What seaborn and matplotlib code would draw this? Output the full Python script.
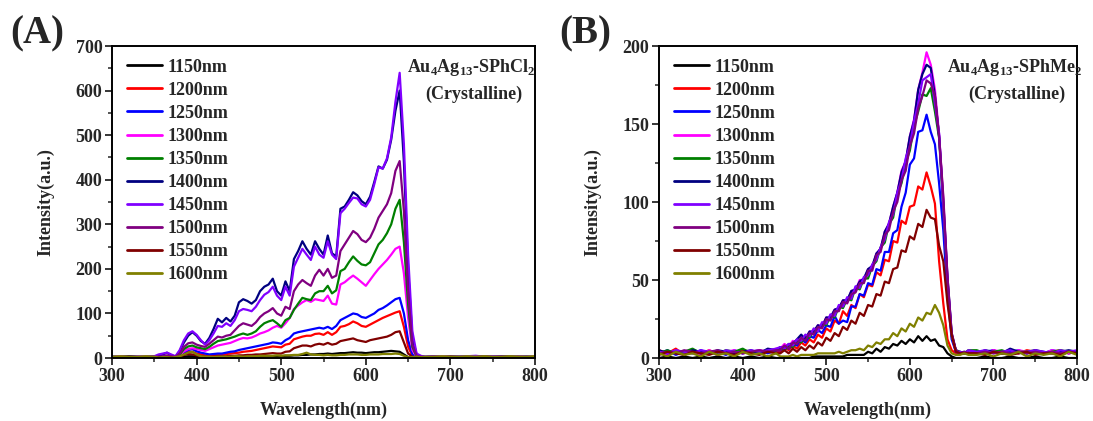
import numpy as np
import pandas as pd
import seaborn as sns
import matplotlib.pyplot as plt
from matplotlib.ticker import MultipleLocator

sns.set_theme(style="ticks")
plt.rcParams["font.family"] = ["Liberation Serif", "DejaVu Serif"]
plt.rcParams["font.weight"] = "bold"
plt.rcParams["mathtext.fontset"] = "custom"
plt.rcParams["mathtext.rm"] = "Liberation Serif:bold"
plt.rcParams["mathtext.bf"] = "Liberation Serif:bold"

labels = ["1150nm", "1200nm", "1250nm", "1300nm", "1350nm",
          "1400nm", "1450nm", "1500nm", "1550nm", "1600nm"]
colors = ["#000000", "#FF0000", "#0000FF", "#FF00FF", "#008000",
          "#000080", "#8000FF", "#800080", "#800000", "#808000"]

# ---- panel A: Au4Ag13-SPhCl2 ----
wl_a = ([300, 310, 320, 330, 340, 350]
        + list(range(355, 671, 5))
        + list(range(680, 801, 10)))

a_1150 = [1, 2, 1, 2, 1, 2,
          1, 1, 1, 1, 1, 2, 3, 4, 4, 3,
          2, 2, 2, 2, 2, 2, 2, 2, 2, 3,
          3, 3, 3, 3, 3, 4, 4, 4, 4, 4,
          5, 5, 6, 6, 7, 7, 8, 8, 9, 9,
          10, 9, 10, 11, 11, 12, 13, 12, 12, 11,
          12, 13, 13, 14, 15, 16, 15, 14, 8, 2,
          1, 1, 1, 1,
          1, 2, 1, 1, 2, 1, 1, 2, 1, 1, 2, 1, 1]
a_1200 = [2, 3, 2, 2, 3, 2,
          1, 1, 2, 2, 2, 4, 10, 14, 14, 10,
          8, 6, 5, 6, 7, 8, 9, 10, 11, 12,
          14, 15, 16, 18, 20, 22, 24, 26, 25, 24,
          30, 32, 42, 45, 48, 50, 50, 54, 55, 52,
          58, 52, 58, 70, 72, 76, 82, 78, 72, 70,
          75, 80, 85, 90, 94, 98, 102, 105, 70, 25,
          5, 2, 2, 1,
          2, 3, 2, 2, 3, 2, 3, 2, 2, 3, 2, 2, 3]
a_1250 = [3, 2, 3, 2, 2, 3,
          1, 2, 2, 2, 2, 5, 12, 18, 20, 15,
          12, 10, 8, 9, 10, 10, 12, 14, 15, 18,
          20, 22, 24, 26, 28, 30, 32, 35, 34, 32,
          40, 45, 55, 58, 60, 62, 64, 66, 68, 66,
          70, 65, 72, 85, 90, 95, 100, 98, 92, 90,
          95, 100, 108, 112, 118, 125, 132, 135, 100, 40,
          8, 2, 2, 2,
          3, 2, 3, 3, 2, 3, 2, 3, 3, 2, 3, 2, 2]
a_1300 = [2, 3, 2, 3, 2, 2,
          2, 2, 3, 2, 2, 6, 15, 20, 22, 20,
          18, 16, 20, 24, 28, 30, 32, 34, 38, 42,
          45, 44, 46, 50, 55, 58, 62, 68, 72, 68,
          78, 90, 110, 118, 125, 130, 126, 132, 130, 128,
          140, 122, 120, 165, 170, 178, 185, 178, 170, 162,
          175, 188, 200, 210, 220, 232, 245, 250, 190, 90,
          18, 3, 2, 2,
          2, 3, 2, 3, 2, 2, 3, 2, 3, 2, 2, 3, 2]
a_1350 = [2, 2, 3, 2, 2, 3,
          2, 3, 4, 3, 2, 8, 20, 26, 28, 24,
          22, 20, 25, 32, 38, 40, 42, 45, 48, 52,
          55, 52, 55, 60, 70, 78, 82, 85, 78, 70,
          85, 90, 108, 122, 135, 132, 130, 145, 150, 150,
          162, 145, 152, 195, 200, 215, 228, 218, 210, 208,
          215, 235, 255, 265, 280, 300, 335, 355, 260, 120,
          25, 4, 3, 2,
          3, 2, 2, 3, 2, 3, 3, 2, 2, 3, 2, 3, 2]
a_1400 = [3, 2, 4, 3, 2, 3,
          5, 8, 12, 6, 3, 15, 35, 50, 58, 50,
          38, 32, 45, 65, 88, 80, 90, 82, 95, 125,
          132, 128, 122, 130, 150, 160, 165, 178, 150, 140,
          172, 150, 222, 240, 262, 245, 232, 262, 245, 232,
          275, 235, 228, 335, 340, 355, 372, 365, 352, 345,
          362, 395, 430, 425, 445, 490, 555, 600, 440, 200,
          45, 8, 4, 3,
          3, 2, 3, 2, 3, 4, 3, 3, 4, 3, 2, 3, 2]
a_1450 = [2, 3, 2, 3, 3, 4,
          8, 10, 12, 8, 4, 18, 40, 55, 60, 52,
          40, 30, 40, 55, 72, 70, 78, 72, 85, 105,
          110, 108, 105, 115, 130, 142, 148, 160, 140, 130,
          160, 140, 205, 225, 245, 232, 220, 250, 232, 225,
          262, 232, 222, 325, 335, 348, 360, 358, 345, 340,
          355, 390, 428, 425, 448, 495, 575, 640, 480, 230,
          60, 10, 5, 3,
          4, 3, 2, 3, 4, 5, 3, 4, 3, 2, 3, 3, 2]
a_1500 = [2, 3, 2, 2, 3, 3,
          3, 4, 6, 4, 3, 10, 25, 33, 35, 30,
          27, 25, 32, 40, 48, 46, 50, 52, 62, 72,
          78, 75, 72, 80, 92, 100, 105, 112, 100, 95,
          115, 110, 150, 165, 175, 168, 162, 185, 198, 185,
          200, 180, 185, 240, 255, 270, 285, 278, 265, 260,
          270, 290, 315, 330, 345, 370, 420, 442, 330, 150,
          30, 5, 3, 2,
          3, 2, 3, 2, 3, 2, 3, 2, 3, 3, 2, 2, 3]
a_1550 = [2, 2, 3, 2, 2, 2,
          1, 1, 2, 1, 1, 3, 7, 9, 8, 6,
          4, 3, 3, 3, 4, 4, 4, 5, 5, 6,
          6, 7, 7, 8, 8, 9, 10, 11, 10, 10,
          14, 15, 22, 25, 28, 28, 26, 30, 32, 30,
          34, 30, 32, 38, 40, 42, 44, 40, 38, 36,
          40, 42, 44, 46, 48, 52, 58, 60, 35, 10,
          3, 1, 1, 1,
          2, 2, 3, 2, 2, 2, 3, 2, 2, 2, 3, 2, 2]
a_1600 = [3, 4, 3, 3, 4, 3,
          1, 2, 2, 1, 2, 4, 8, 12, 14, 8,
          4, 3, 3, 2, 3, 3, 3, 3, 4, 4,
          3, 4, 4, 4, 5, 5, 5, 5, 6, 5,
          6, 6, 7, 7, 9, 12, 8, 7, 7, 6,
          7, 6, 6, 7, 7, 8, 8, 8, 7, 7,
          8, 8, 8, 9, 9, 9, 10, 9, 5, 2,
          2, 3, 2, 3,
          3, 4, 3, 3, 4, 3, 4, 3, 3, 4, 3, 3, 4]

# ---- panel B: Au4Ag13-SPhMe2 ----
wl_b = (list(range(300, 441, 10))
        + list(range(445, 671, 5))
        + list(range(680, 801, 10)))

b_1150 = [0, 1, 0, 1, 0, 1, 0, 1, 0, 1, 0, 1, 0, 1, 0,
          0, 0, 0, 0, 0, 0, 0, 0, 1, 1,
          1, 1, 1, 1, 1, 1, 2, 2, 2, 2,
          2, 4, 3, 6, 4, 7, 6, 9, 8, 11,
          9, 12, 10, 14, 11, 14, 11, 12, 8, 7,
          3, 1, 0, 0, 0, 0,
          0, 1, 0, 0, 1, 0, 0, 1, 0, 0, 1, 0, 0]
b_1200 = [5, 3, 6, 2, 4, 3, 5, 2, 4, 3, 5, 4, 3, 5, 4,
          4, 7, 5, 8, 6, 10, 8, 12, 10, 15,
          13, 19, 17, 24, 22, 30, 27, 34, 32, 41,
          39, 47, 46, 55, 53, 63, 62, 75, 74, 88,
          86, 97, 98, 110, 108, 119, 110, 99, 62, 35,
          12, 5, 3, 3, 3, 4,
          4, 3, 5, 3, 4, 3, 5, 4, 3, 4, 5, 3, 4]
b_1250 = [3, 5, 2, 4, 3, 5, 3, 4, 2, 5, 3, 4, 5, 3, 5,
          5, 8, 6, 9, 8, 12, 10, 14, 13, 18,
          16, 21, 20, 27, 22, 24, 23, 33, 33, 41,
          40, 48, 47, 57, 56, 68, 68, 80, 82, 97,
          106, 124, 128, 145, 146, 156, 145, 137, 112, 82,
          40, 12, 4, 3, 3, 4,
          3, 4, 5, 3, 4, 5, 3, 4, 3, 5, 4, 3, 4]
b_1300 = [4, 2, 5, 3, 4, 2, 5, 3, 4, 5, 3, 4, 5, 4, 6,
          6, 9, 7, 11, 10, 14, 12, 17, 16, 21,
          20, 26, 25, 31, 31, 37, 36, 43, 43, 50,
          50, 57, 58, 67, 70, 81, 86, 97, 106, 120,
          126, 142, 153, 172, 183, 196, 188, 172, 143, 102,
          50, 15, 5, 4, 3, 4,
          4, 3, 5, 4, 3, 5, 4, 4, 3, 5, 4, 3, 4]
b_1350 = [3, 5, 3, 4, 6, 3, 4, 3, 5, 4, 6, 3, 4, 5, 5,
          6, 5, 8, 7, 11, 10, 14, 13, 18, 17,
          22, 21, 27, 26, 33, 32, 38, 37, 45, 44,
          51, 51, 59, 62, 71, 74, 86, 90, 105, 112,
          125, 133, 149, 158, 169, 168, 173, 158, 141, 96,
          48, 14, 5, 4, 3, 5,
          5, 3, 4, 5, 3, 4, 4, 5, 3, 4, 5, 4, 3]
b_1400 = [5, 3, 4, 2, 5, 4, 3, 5, 4, 3, 4, 5, 3, 6, 5,
          7, 6, 9, 9, 12, 15, 12, 17, 17, 21,
          20, 26, 26, 31, 32, 37, 37, 43, 44, 49,
          51, 57, 59, 67, 70, 81, 86, 97, 106, 119,
          126, 142, 152, 172, 182, 188, 186, 168, 142, 100,
          52, 16, 5, 3, 4, 3,
          3, 5, 4, 3, 6, 4, 3, 5, 4, 3, 4, 5, 4]
b_1450 = [4, 3, 5, 4, 3, 5, 4, 2, 5, 4, 3, 5, 4, 5, 6,
          7, 6, 9, 8, 12, 11, 15, 14, 19, 17,
          23, 22, 28, 27, 34, 33, 39, 38, 46, 45,
          52, 53, 60, 63, 71, 76, 87, 92, 106, 114,
          128, 136, 152, 163, 178, 180, 182, 163, 144, 98,
          50, 15, 4, 4, 3, 5,
          4, 5, 3, 4, 5, 3, 4, 5, 4, 3, 5, 4, 5]
b_1500 = [3, 4, 3, 5, 4, 3, 4, 5, 3, 4, 3, 4, 5, 4, 5,
          5, 8, 6, 10, 9, 13, 11, 16, 15, 20,
          19, 25, 24, 30, 30, 36, 35, 41, 42, 48,
          48, 56, 56, 66, 68, 79, 82, 94, 100, 114,
          120, 136, 144, 160, 168, 178, 176, 168, 142, 104,
          52, 16, 5, 3, 4, 3,
          3, 4, 3, 4, 3, 4, 3, 4, 3, 4, 3, 4, 3]
b_1550 = [2, 4, 3, 2, 4, 3, 2, 4, 3, 2, 4, 3, 2, 4, 3,
          3, 5, 3, 6, 4, 7, 5, 8, 6, 10,
          8, 13, 11, 16, 14, 20, 18, 24, 22, 29,
          27, 34, 33, 41, 40, 49, 48, 57, 58, 69,
          68, 78, 76, 86, 84, 95, 90, 89, 72, 62,
          35, 15, 4, 3, 3, 3,
          3, 2, 4, 3, 2, 3, 4, 2, 3, 3, 2, 4, 3]
b_1600 = [3, 1, 4, 2, 3, 1, 4, 2, 3, 1, 4, 2, 3, 1, 3,
          1, 1, 1, 2, 1, 2, 2, 2, 2, 3,
          3, 3, 3, 3, 4, 3, 4, 5, 5, 6,
          5, 8, 7, 10, 9, 12, 12, 16, 14, 19,
          17, 22, 20, 26, 24, 29, 28, 34, 29, 21,
          8, 3, 2, 2, 3, 2,
          2, 3, 1, 3, 2, 4, 1, 3, 2, 3, 1, 4, 2]

series_a = [a_1150, a_1200, a_1250, a_1300, a_1350,
            a_1400, a_1450, a_1500, a_1550, a_1600]
series_b = [b_1150, b_1200, b_1250, b_1300, b_1350,
            b_1400, b_1450, b_1500, b_1550, b_1600]


def long_df(wl, series):
    rows = []
    for lab, vals in zip(labels, series):
        rows.append(pd.DataFrame({"wl": wl, "I": vals, "exc": lab}))
    return pd.concat(rows, ignore_index=True)


def draw_panel(ax, df, ymax, ymajor, tag, formula):
    sns.lineplot(data=df, x="wl", y="I", hue="exc", hue_order=labels,
                 palette=colors, ax=ax, linewidth=1.6, estimator=None)
    ax.set_xlim(300, 800)
    ax.set_ylim(0, ymax)
    ax.xaxis.set_major_locator(MultipleLocator(100))
    ax.xaxis.set_minor_locator(MultipleLocator(50))
    ax.yaxis.set_major_locator(MultipleLocator(ymajor))
    ax.yaxis.set_minor_locator(MultipleLocator(ymajor / 2))
    ax.tick_params(which="major", direction="out", length=5, width=1.3,
                   labelsize=13, pad=2)
    ax.tick_params(which="minor", direction="out", length=3, width=1.1)
    for lab in ax.get_xticklabels() + ax.get_yticklabels():
        lab.set_fontweight("bold")
    for sp in ax.spines.values():
        sp.set_linewidth(1.4)
        sp.set_color("black")
    ax.set_xlabel("Wavelength(nm)", fontsize=13, fontweight="bold", labelpad=12)
    ax.set_ylabel("Intensity(a.u.)", fontsize=13, fontweight="bold", labelpad=15)
    leg = ax.legend(loc="upper left", frameon=False, fontsize=13,
                    handlelength=1.95, handletextpad=0.3, labelspacing=0.335,
                    borderaxespad=0.3, bbox_to_anchor=(0.006, 1.0))
    for t in leg.get_texts():
        t.set_fontweight("bold")
    for h in leg.get_lines():
        h.set_linewidth(2.0)
    ax.text(0.85, 0.93, formula, transform=ax.transAxes, ha="center",
            va="center", fontsize=13, fontweight="bold")
    ax.text(0.855, 0.845, "(Crystalline)", transform=ax.transAxes,
            ha="center", va="center", fontsize=13, fontweight="bold")
    ax.text(-0.24, 1.04, tag, transform=ax.transAxes, ha="left",
            va="center", fontsize=28, fontweight="bold")


fig = plt.figure(figsize=(10.93, 4.21), dpi=100)
ax1 = fig.add_axes([0.1025, 0.1496, 0.387, 0.741])
ax2 = fig.add_axes([0.603, 0.1496, 0.3824, 0.741])

draw_panel(ax1, long_df(wl_a, series_a), 700, 100, "(A)",
           r"Au$_4$Ag$_{13}$-SPhCl$_2$")
draw_panel(ax2, long_df(wl_b, series_b), 200, 50, "(B)",
           r"Au$_4$Ag$_{13}$-SPhMe$_2$")

fig.savefig("out.png", dpi=100)
